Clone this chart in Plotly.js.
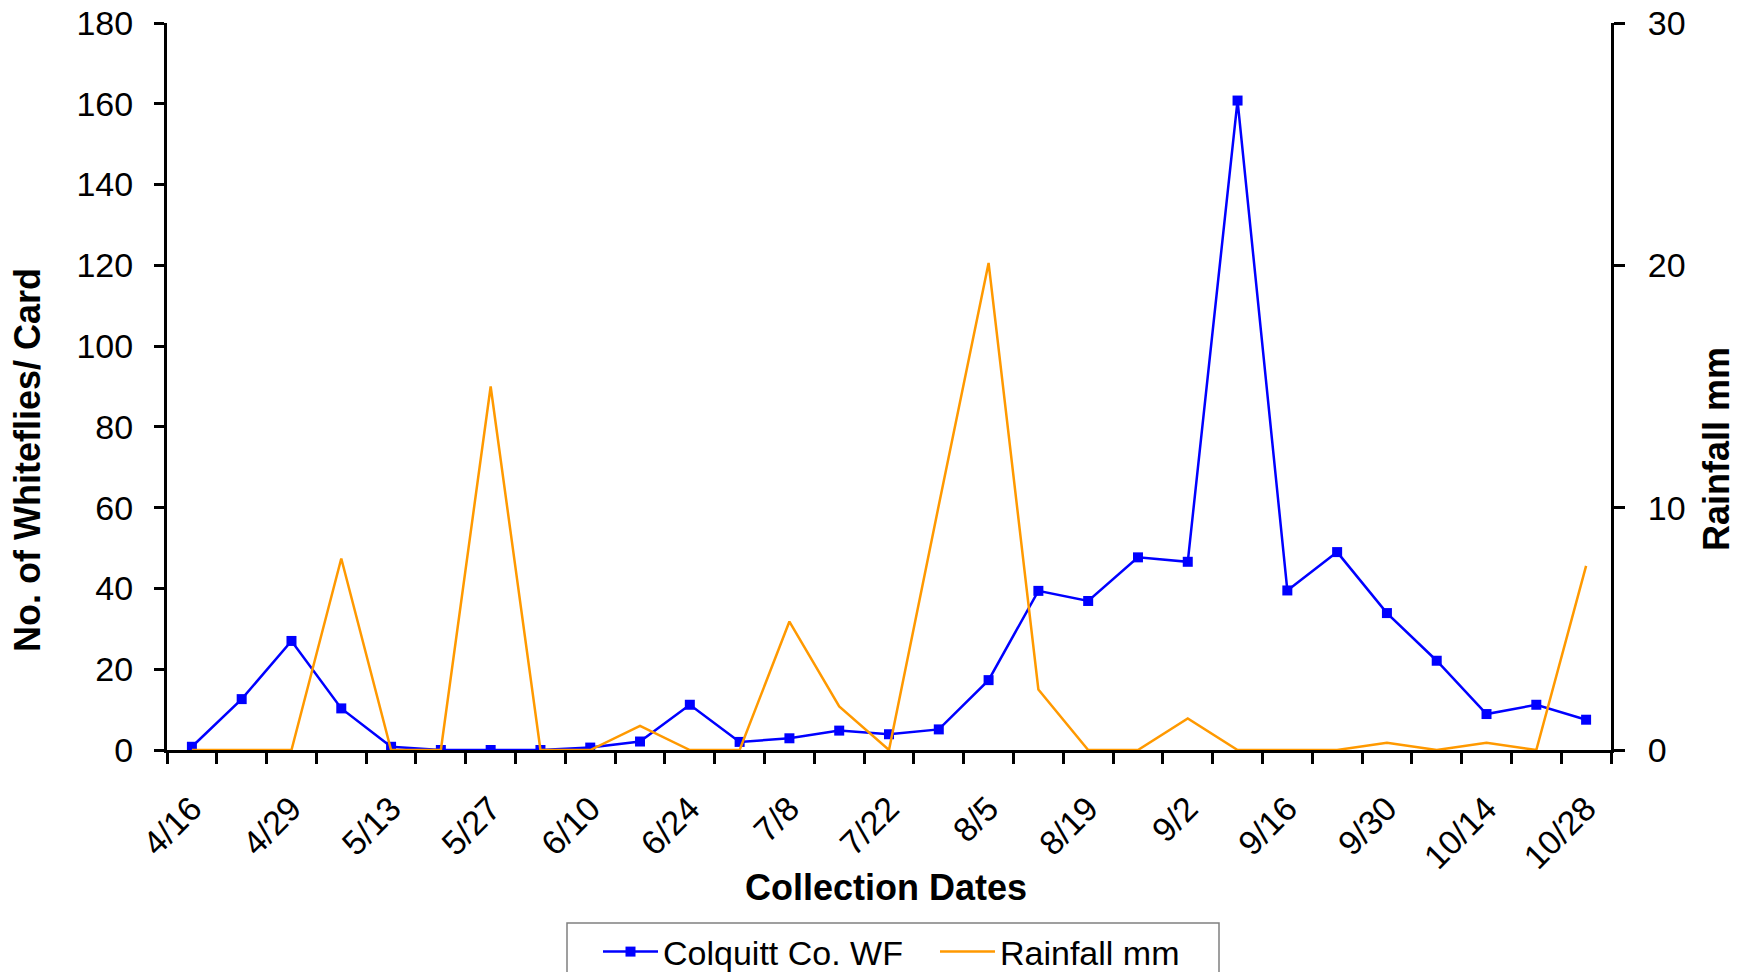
<!DOCTYPE html>
<html>
<head>
<meta charset="utf-8">
<script src="https://cdn.plot.ly/plotly-3.0.1.min.js"></script>
<style>
  html, body { margin: 0; padding: 0; background: #fff; }
  #chart { width: 1748px; height: 972px; }
</style>
</head>
<body>
<div id="chart"></div>
<script>
// Collection dates that carry a label (every second collection is labelled)
const dateLabels = ['4/16', '4/29', '5/13', '5/27', '6/10', '6/24', '7/8', '7/22',
                    '8/5', '8/19', '9/2', '9/16', '9/30', '10/14', '10/28'];

// Colquitt Co. whiteflies per card, one value per weekly collection (29)
const whiteflies = [0.8, 12.6, 27.0, 10.3, 0.8, 0, 0, 0, 0.6, 2.1,
                    11.2, 2.0, 2.9, 4.8, 3.9, 5.1, 17.3, 39.4, 36.9, 47.7,
                    46.6, 160.8, 39.5, 49.0, 33.9, 22.1, 8.9, 11.2, 7.5];

// Rainfall (mm), one value per collection (29)
const rainfall = [0, 0, 0, 7.9, 0, 0, 15.0, 0, 0, 1.0,
                  0, 0, 5.3, 1.8, 0, 10.1, 20.1, 2.5, 0, 0,
                  1.3, 0, 0, 0, 0.3, 0, 0.3, 0, 7.6];

const seriesNames = ['Colquitt Co. WF', 'Rainfall mm'];
const axisTitles = { x: 'Collection Dates', y: 'No. of Whiteflies/ Card', y2: 'Rainfall mm' };

const idx = whiteflies.map((_, i) => i);
const labelIdx = dateLabels.map((_, i) => i * 2);

const FONT = 'Liberation Sans, Arial, Helvetica, sans-serif';
const W = 1748, H = 972;
const M = { l: 167, r: 137, t: 23, b: 222 };
const PW = W - M.l - M.r, PH = H - M.t - M.b;
const px = x => (x - M.l) / PW;
const py = y => (H - M.b - y) / PH;

const traces = [
  {
    x: idx, y: whiteflies, name: seriesNames[0], type: 'scatter', mode: 'lines+markers',
    line: { color: '#0000FF', width: 2.5 },
    marker: { symbol: 'square', size: 10, color: '#0000FF' },
    xaxis: 'x', yaxis: 'y'
  },
  {
    x: idx, y: rainfall, name: seriesNames[1], type: 'scatter', mode: 'lines',
    line: { color: '#FF9900', width: 2.5 },
    xaxis: 'x', yaxis: 'y2'
  }
];

const layout = {
  width: W, height: H,
  margin: { l: M.l, r: M.r, t: M.t, b: M.b, autoexpand: false },
  paper_bgcolor: '#fff', plot_bgcolor: '#fff',
  font: { family: FONT, color: '#000', size: 34 },
  showlegend: true,
  legend: {
    orientation: 'h', x: px(598), y: py(952), xanchor: 'left', yanchor: 'middle',
    font: { family: FONT, size: 34, color: '#000' },
    bgcolor: 'rgba(0,0,0,0)', borderwidth: 0, itemwidth: 55, entrywidth: 267
  },
  xaxis: {
    type: 'linear', range: [-0.5, 28.5], fixedrange: true,
    tickmode: 'array', tickvals: labelIdx, ticktext: dateLabels,
    ticks: '', tickangle: -45, ticklabelstandoff: 22,
    tickfont: { family: FONT, size: 34, color: '#000' },
    showline: true, linecolor: '#000', linewidth: 3, mirror: false,
    showgrid: false, zeroline: false,
    minor: { tickmode: 'linear', tick0: -0.5, dtick: 1, ticks: 'outside', ticklen: 11,
             tickwidth: 3, tickcolor: '#000', showgrid: false }
  },
  yaxis: {
    range: [0, 180], dtick: 20, tick0: 0, fixedrange: true,
    ticks: 'outside', ticklen: 10, tickwidth: 3, tickcolor: '#000',
    ticklabelstandoff: 14,
    tickfont: { family: FONT, size: 34, color: '#000' },
    showline: true, linecolor: '#000', linewidth: 3,
    showgrid: false, zeroline: false
  },
  yaxis2: {
    overlaying: 'y', side: 'right', anchor: 'x',
    range: [0, 30], dtick: 10, tick0: 0, fixedrange: true,
    ticks: 'outside', ticklen: 11, tickwidth: 3, tickcolor: '#000',
    ticklabelstandoff: 16,
    tickfont: { family: FONT, size: 34, color: '#000' },
    showline: true, linecolor: '#000', linewidth: 3,
    showgrid: false, zeroline: false
  },
  yaxis3: {
    overlaying: 'y', side: 'right', anchor: 'x',
    range: [0, 30], dtick: 10, tick0: 0, fixedrange: true,
    ticks: 'inside', ticklen: 11, tickwidth: 3, tickcolor: '#000',
    showticklabels: false, showline: false, showgrid: false, zeroline: false
  },
  annotations: [
    { text: '<b>' + axisTitles.x + '</b>', xref: 'paper', yref: 'paper',
      x: px(886), y: py(887), xanchor: 'center', yanchor: 'middle', showarrow: false,
      font: { family: FONT, size: 36, color: '#000' } },
    { text: '<b>' + axisTitles.y + '</b>', xref: 'paper', yref: 'paper',
      x: px(28), y: py(460), xanchor: 'center', yanchor: 'middle', showarrow: false,
      textangle: -90, font: { family: FONT, size: 36, color: '#000' } },
    { text: '<b>' + axisTitles.y2 + '</b>', xref: 'paper', yref: 'paper',
      x: px(1717), y: py(449), xanchor: 'center', yanchor: 'middle', showarrow: false,
      textangle: -90, font: { family: FONT, size: 36, color: '#000' } }
  ],
  shapes: [
    { type: 'rect', xref: 'paper', yref: 'paper', layer: 'below',
      x0: px(567), x1: px(1219), y0: py(923), y1: py(1010),
      line: { color: '#808080', width: 1.5 }, fillcolor: '#fff' }
  ]
};

Plotly.newPlot('chart', traces, layout, { displayModeBar: false, staticPlot: true });
</script>
</body>
</html>
